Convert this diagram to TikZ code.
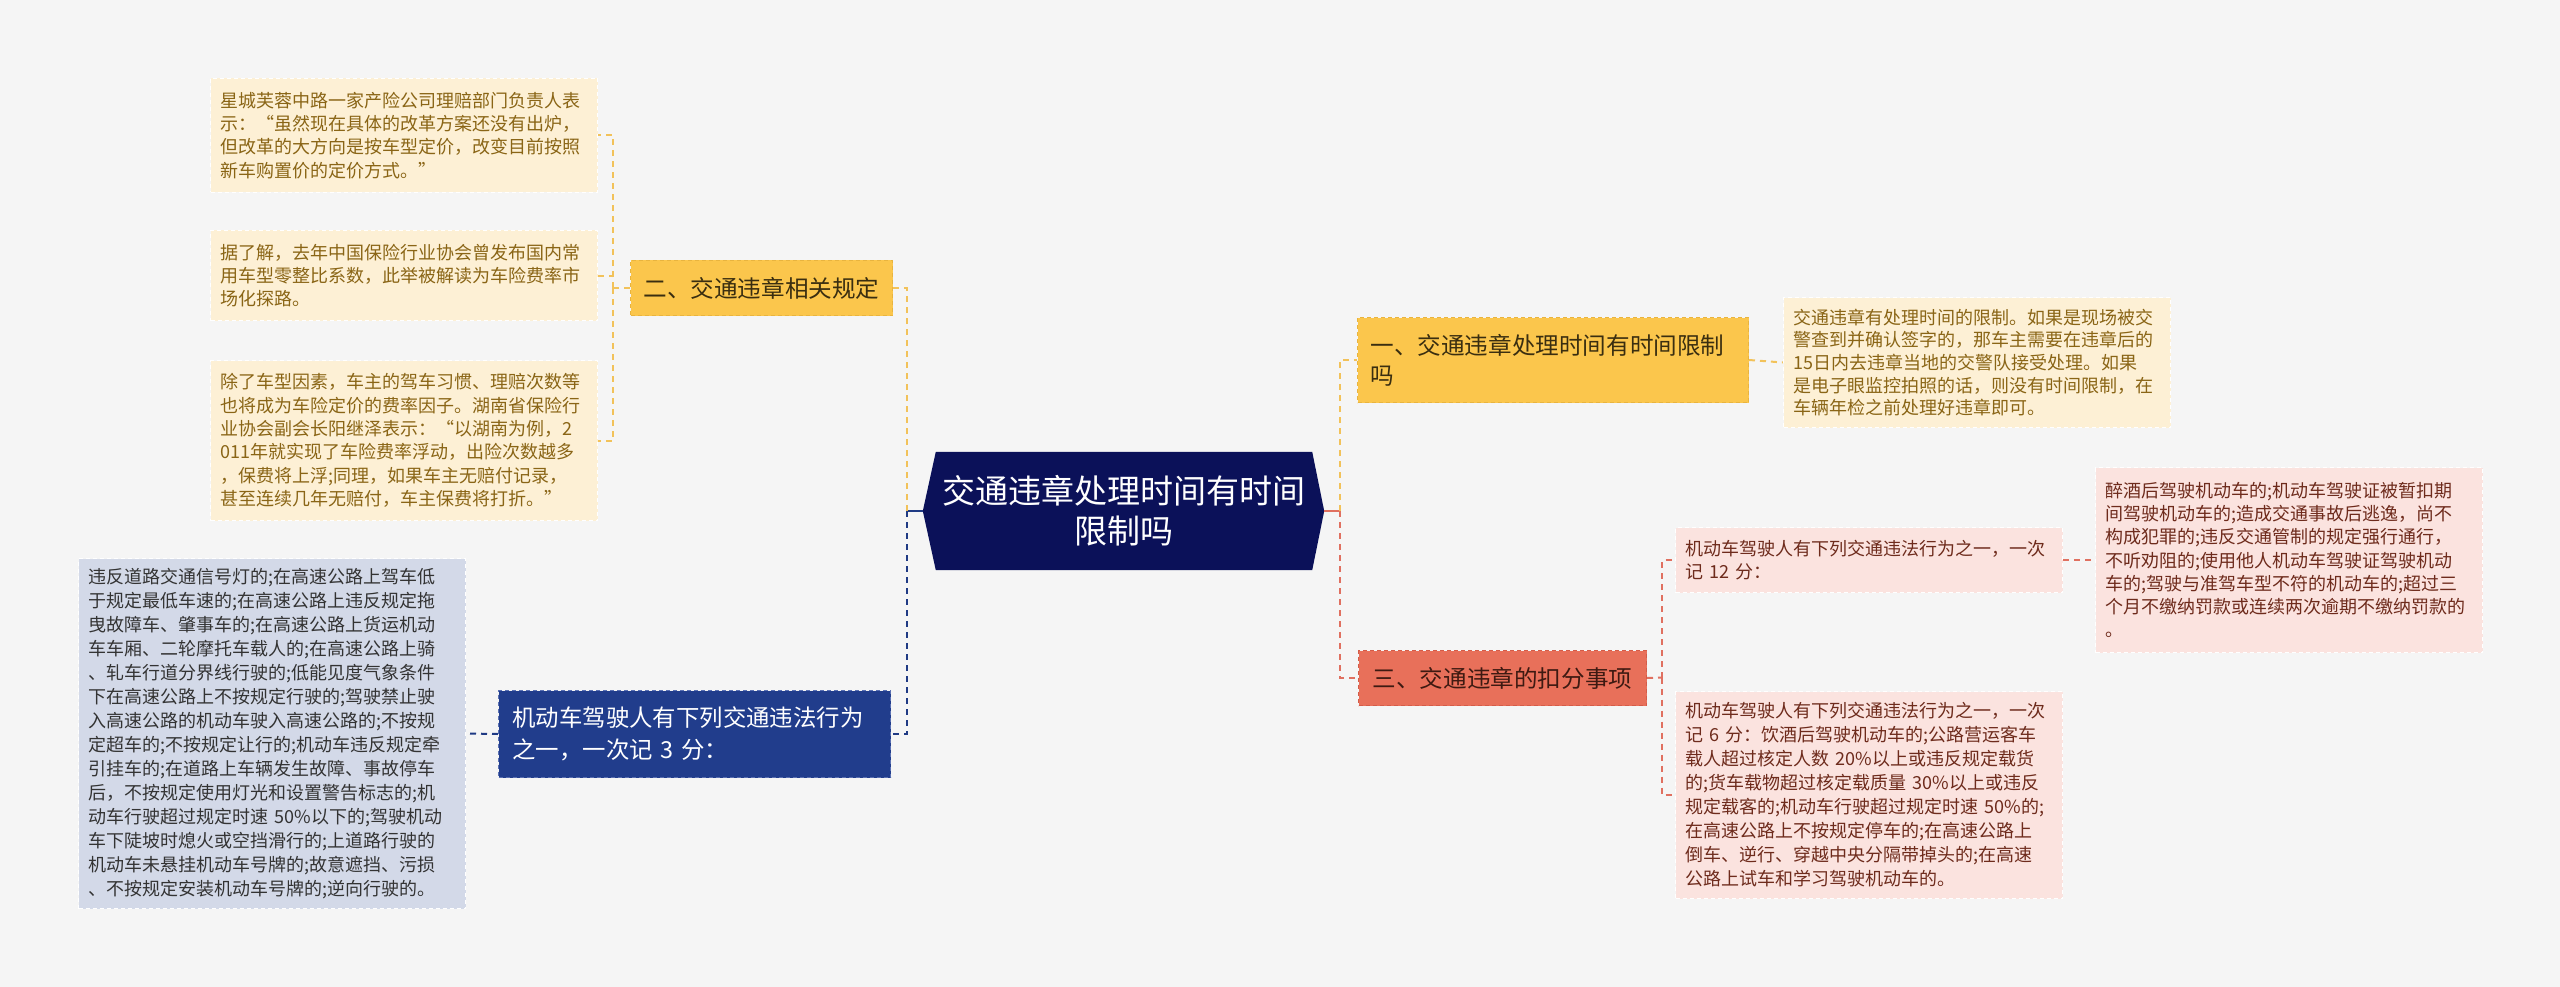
\documentclass[tikz,border=0pt]{standalone}
\usepackage{fontspec}
\setmainfont{Noto Sans CJK SC}
\usetikzlibrary{calc,backgrounds}
\definecolor{pagebg}{HTML}{F5F5F5}
\definecolor{navyc}{HTML}{0B1159}
\definecolor{yelfill}{HTML}{FBC64C}
\definecolor{yelline}{HTML}{F2C25A}
\definecolor{yelborder}{HTML}{E9B43E}
\definecolor{yeltext}{HTML}{3A2E10}
\definecolor{creamfill}{HTML}{FDF0D5}
\definecolor{creamtext}{HTML}{8A6516}
\definecolor{bluefill}{HTML}{213D8C}
\definecolor{blueborder}{HTML}{5A70B2}
\definecolor{blueline}{HTML}{1F3A84}
\definecolor{bluelfill}{HTML}{D3D9E8}
\definecolor{bluetext}{HTML}{333333}
\definecolor{coralfill}{HTML}{E8705A}
\definecolor{coralborder}{HTML}{D45C48}
\definecolor{coraltext}{HTML}{3E1A12}
\definecolor{redline}{HTML}{E07060}
\definecolor{pinkfill}{HTML}{FBE3DF}
\definecolor{pinktext}{HTML}{6E2B1C}
\tikzset{
  box/.style={anchor=north west, rectangle, align=left, inner ysep=0pt},
  leafy/.style={box, fill=creamfill, draw=white, dash pattern=on 4pt off 3pt, line width=1pt,
    text=creamtext, font=\fontsize{18}{23.3}\selectfont, inner xsep=10pt},
  leafb/.style={box, fill=bluelfill, draw=white, dash pattern=on 4pt off 3pt, line width=1pt,
    text=bluetext, font=\fontsize{18}{24}\selectfont, inner xsep=10pt},
  leafp/.style={box, fill=pinkfill, draw=white, dash pattern=on 4pt off 3pt, line width=1pt,
    text=pinktext, font=\fontsize{18}{23.3}\selectfont, inner xsep=10pt},
  topy/.style={box, fill=yelfill, draw=yelborder, dash pattern=on 4pt off 3pt, line width=1pt,
    text=yeltext, font=\fontsize{23.6}{30}\selectfont, inner xsep=13pt},
  topb/.style={box, fill=bluefill, draw=blueborder, dash pattern=on 4pt off 3pt, line width=1pt,
    text=white, font=\fontsize{23.4}{32}\selectfont, inner xsep=14pt},
  topr/.style={box, fill=coralfill, draw=coralborder, dash pattern=on 4pt off 3pt, line width=1pt,
    text=coraltext, font=\fontsize{23.6}{30}\selectfont, inner xsep=12pt},
  conn/.style={line width=2pt, dash pattern=on 6pt off 5pt},
  yd/.style={conn, draw=yelline},
  nd/.style={conn, draw=blueline},
  rd/.style={conn, draw=redline},
}
\begin{document}
\begin{tikzpicture}[x=1pt,y=-1pt]
\begin{scope}[on background layer]
\fill[pagebg] (0,0) rectangle (2560,987);
\end{scope}
\useasboundingbox (0,0) rectangle (2560,987);

% center
\node[font=\fontsize{33}{40}\selectfont, text=white, align=center, minimum width=376pt, minimum height=118pt, inner sep=0pt] (c) at (1124,511) {交通违章处理时间有时间\\限制吗};
\coordinate (cl) at ($(c.west)+(-13pt,0)$);
\coordinate (cr) at ($(c.east)+(12pt,0)$);
\begin{scope}[on background layer]
\fill[navyc] (c.north west) -- (c.north east) -- (cr) -- (c.south east) -- (c.south west) -- (cl) -- cycle;
\end{scope}

% left top branch
\node[topy, minimum width=260pt, minimum height=55pt] (n2) at (630,260) {二、交通违章相关规定};
\node[leafy, minimum width=387pt, minimum height=114pt, text width=367pt] (l1) at (210,78) {星城芙蓉中路一家产险公司理赔部门负责人表\\示：“虽然现在具体的改革方案还没有出炉，\\但改革的大方向是按车型定价，改变目前按照\\新车购置价的定价方式。”};
\node[leafy, minimum width=387pt, minimum height=90pt, text width=367pt] (l2) at (210,230) {据了解，去年中国保险行业协会曾发布国内常\\用车型零整比系数，此举被解读为车险费率市\\场化探路。};
\node[leafy, minimum width=387pt, minimum height=160pt, text width=367pt] (l3) at (210,360) {除了车型因素，车主的驾车习惯、理赔次数等\\也将成为车险定价的费率因子。湖南省保险行\\业协会副会长阳继泽表示：“以湖南为例，2\\011年就实现了车险费率浮动，出险次数越多\\，保费将上浮;同理，如果车主无赔付记录，\\甚至连续几年无赔付，车主保费将打折。”};

% left bottom branch
\node[topb, minimum width=392pt, minimum height=87pt, text width=364pt] (n3) at (498,690) {机动车驾驶人有下列交通违法行为\\之一，一次记 3 分：};
\node[leafb, minimum width=387pt, minimum height=350pt, text width=367pt] (lb1) at (78,558) {违反道路交通信号灯的;在高速公路上驾车低\\于规定最低车速的;在高速公路上违反规定拖\\曳故障车、肇事车的;在高速公路上货运机动\\车车厢、二轮摩托车载人的;在高速公路上骑\\、轧车行道分界线行驶的;低能见度气象条件\\下在高速公路上不按规定行驶的;驾驶禁止驶\\入高速公路的机动车驶入高速公路的;不按规\\定超车的;不按规定让行的;机动车违反规定牵\\引挂车的;在道路上车辆发生故障、事故停车\\后，不按规定使用灯光和设置警告标志的;机\\动车行驶超过规定时速 50\%以下的;驾驶机动\\车下陡坡时熄火或空挡滑行的;上道路行驶的\\机动车未悬挂机动车号牌的;故意遮挡、污损\\、不按规定安装机动车号牌的;逆向行驶的。};

% right top branch
\node[topy, minimum width=391pt, minimum height=85pt, text width=365pt] (n1) at (1357,317) {一、交通违章处理时间有时间限制\\吗};
\node[leafy, minimum width=387pt, minimum height=130pt, text width=367pt, font=\fontsize{18}{22.6}\selectfont] (r1) at (1783,297) {交通违章有处理时间的限制。如果是现场被交\\警查到并确认签字的，那车主需要在违章后的\\15日内去违章当地的交警队接受处理。如果\\是电子眼监控拍照的话，则没有时间限制，在\\车辆年检之前处理好违章即可。};

% right bottom branch
\node[topr, minimum width=288pt, minimum height=55pt] (n4) at (1358,650) {三、交通违章的扣分事项};
\node[leafp, minimum width=387pt, minimum height=65pt, text width=367pt] (r2) at (1675,527) {机动车驾驶人有下列交通违法行为之一，一次\\记 12 分：};
\node[leafp, minimum width=387pt, minimum height=185pt, text width=367pt] (r3) at (2095,467) {醉酒后驾驶机动车的;机动车驾驶证被暂扣期\\间驾驶机动车的;造成交通事故后逃逸，尚不\\构成犯罪的;违反交通管制的规定强行通行，\\不听劝阻的;使用他人机动车驾驶证驾驶机动\\车的;驾驶与准驾车型不符的机动车的;超过三\\个月不缴纳罚款或连续两次逾期不缴纳罚款的\\。};
\node[leafp, minimum width=387pt, minimum height=207pt, text width=367pt, font=\fontsize{18}{24}\selectfont] (r4) at (1675,691) {机动车驾驶人有下列交通违法行为之一，一次\\记 6 分：饮酒后驾驶机动车的;公路营运客车\\载人超过核定人数 20\%以上或违反规定载货\\的;货车载物超过核定载质量 30\%以上或违反\\规定载客的;机动车行驶超过规定时速 50\%的;\\在高速公路上不按规定停车的;在高速公路上\\倒车、逆行、穿越中央分隔带掉头的;在高速\\公路上试车和学习驾驶机动车的。};

% connectors
\coordinate (lb) at (907,511);
\coordinate (yb) at (613,288);
\coordinate (rb) at (1340,511);
\coordinate (rb2) at (1662,677.5);
\begin{scope}[on background layer]
\draw[line width=2pt, blueline] (cl) -- (lb);
\draw[yd] (lb) |- (n2.east);
\draw[nd] (lb) |- (n3.east);
\draw[yd] (n2.west) -- (yb);
\draw[yd] (yb) |- (l1.east);
\draw[yd] (yb) |- (l2.east);
\draw[yd] (yb) |- (l3.east);
\draw[nd] (n3.west) -- (lb1.east);
\draw[line width=2pt, redline] (cr) -- (rb);
\draw[yd] (rb) |- (n1.west);
\draw[rd] (rb) |- (n4.west);
\draw[yd] (n1.east) -- (r1.west);
\draw[rd] (n4.east) -- (rb2);
\draw[rd] (rb2) |- (r2.west);
\draw[rd] (rb2) |- (r4.west);
\draw[rd] (r2.east) -- (r3.west);
\end{scope}
\end{tikzpicture}
\end{document}
